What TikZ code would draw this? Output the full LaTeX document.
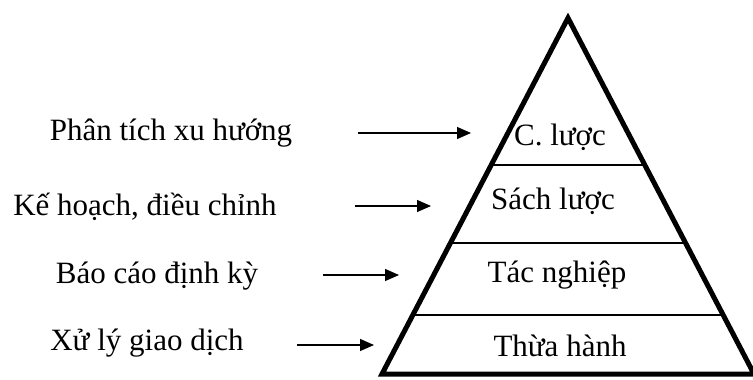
\documentclass[tikz,border=0pt]{standalone}
\usepackage{fontspec}
\setmainfont{Liberation Serif}
\usetikzlibrary{arrows.meta,calc}
\begin{document}
\begin{tikzpicture}[x=1pt,y=-1pt,
  lbl/.style={inner sep=0pt,font=\fontsize{31}{36}\selectfont},
  tier/.style={inner sep=0pt,font=\fontsize{31}{36}\selectfont},
  pyr/.style={line width=5pt,line join=miter},
  sep/.style={line width=1.3pt},
  feed/.style={line width=1.3pt,-{Triangle[length=14pt,width=12pt]}}]
\useasboundingbox (0,0) rectangle (753,380);
% pyramid outline
\coordinate (apex) at (568,18);
\coordinate (bl) at (382,374);
\coordinate (br) at (754,374);
\draw[pyr] (apex) -- (bl) -- (br) -- cycle;
% tier dividers
\foreach \t [count=\i] in {0.413,0.632,0.834}
  \draw[sep] ($(apex)!\t!(bl)$) -- ($(apex)!\t!(br)$);
% tier names
\node[tier] (t1) at (560,137) {C. lược};
\node[tier] (t2) at (553,201) {Sách lược};
\node[tier] (t3) at (557,275) {Tác nghiệp};
\node[tier] (t4) at (560,346) {Thừa hành};
% activity labels
\node[lbl] (a1) at (171,133) {Phân tích xu hướng};
\node[lbl] (a2) at (145,207) {Kế hoạch, điều chỉnh};
\node[lbl] (a3) at (157,276) {Báo cáo định kỳ};
\node[lbl] (a4) at (147,343) {Xử lý giao dịch};
% arrows toward the pyramid
\coordinate (s1) at (358,133); \coordinate (e1) at (471,133);
\coordinate (s2) at (355,206); \coordinate (e2) at (431,206);
\coordinate (s3) at (323,275); \coordinate (e3) at (399,275);
\coordinate (s4) at (297,345); \coordinate (e4) at (374,345);
\foreach \i in {1,...,4} \draw[feed] (s\i) -- (e\i);
\end{tikzpicture}
\end{document}
